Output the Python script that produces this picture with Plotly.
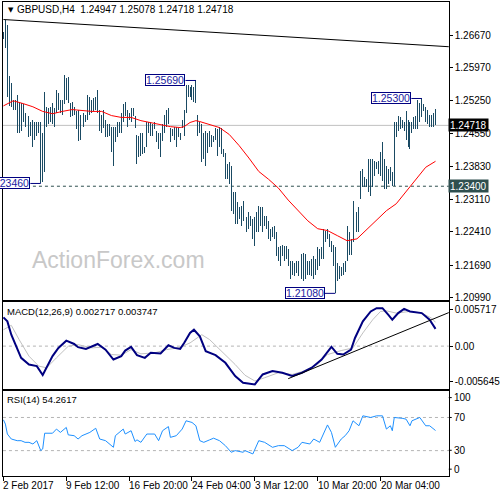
import plotly.graph_objects as go

# ---------------- data ----------------
highs = [
    1.2674, 1.2699, 1.2690, 1.2579, 1.2564, 1.2527, 1.2527, 1.2538, 1.2523, 1.2521,
    1.2517, 1.2499, 1.2495, 1.2491, 1.2480, 1.2484, 1.2478, 1.2480, 1.2478, 1.2478,
    1.2456, 1.2545, 1.2512, 1.2510, 1.2512, 1.2521, 1.2510, 1.2549, 1.2542, 1.2527,
    1.2527, 1.2581, 1.2575, 1.2577, 1.2521, 1.2523, 1.2512, 1.2502, 1.2506, 1.2495,
    1.2499, 1.2499, 1.2495, 1.2538, 1.2534, 1.2527, 1.2532, 1.2534, 1.2549, 1.2506,
    1.2495, 1.2506, 1.2484, 1.2474, 1.2474, 1.2469,
    1.2469, 1.2469, 1.2478, 1.2480, 1.2499, 1.2517, 1.2523, 1.2506, 1.2499, 1.2510,
    1.2510, 1.2491, 1.2452, 1.2448, 1.2456, 1.2456, 1.2426, 1.2478, 1.2480, 1.2478,
    1.2474, 1.2480, 1.2459, 1.2456, 1.2456, 1.2474, 1.2495, 1.2506, 1.2510, 1.2467,
    1.2463, 1.2469, 1.2469, 1.2467, 1.2456, 1.2484, 1.2506, 1.2560, 1.2560, 1.2555,
    1.2560, 1.2555, 1.2569, 1.2495, 1.2478, 1.2474, 1.2456, 1.2459, 1.2456, 1.2459,
    1.2452, 1.2448, 1.2467, 1.2463, 1.2469, 1.2467,
    1.2420, 1.2413, 1.2388, 1.2392, 1.2383, 1.2327, 1.2327, 1.2306, 1.2295, 1.2297,
    1.2308, 1.2291, 1.2273, 1.2284, 1.2276, 1.2269, 1.2273, 1.2284, 1.2297, 1.2295,
    1.2295, 1.2276, 1.2276, 1.2265, 1.2248, 1.2252, 1.2254, 1.2241, 1.2209, 1.2211,
    1.2213, 1.2211, 1.2211, 1.2205, 1.2179, 1.2179, 1.2173, 1.2179, 1.2177, 1.2179,
    1.2194, 1.2196, 1.2194, 1.2177, 1.2177, 1.2183, 1.2188, 1.2183, 1.2209, 1.2205,
    1.2209, 1.2248, 1.2244, 1.2248, 1.2237, 1.2222,
    1.2213, 1.2209, 1.2173, 1.2168, 1.2166, 1.2173, 1.2179, 1.2254, 1.2241, 1.2226,
    1.2308, 1.2297, 1.2284, 1.2295, 1.2372, 1.2377, 1.2360, 1.2355, 1.2398, 1.2398,
    1.2398, 1.2394, 1.2392, 1.2394, 1.2415, 1.2435, 1.2398, 1.2383, 1.2377, 1.2381,
    1.2370, 1.2478, 1.2480, 1.2491, 1.2489, 1.2484, 1.2480, 1.2502, 1.2484, 1.2478,
    1.2478, 1.2489, 1.2491, 1.2527, 1.2521, 1.2530, 1.2517, 1.2512, 1.2506, 1.2495,
    1.2495, 1.2499, 1.25078,
]
lows = [
    1.2658, 1.2640, 1.2534, 1.2514, 1.2512, 1.2506, 1.2506, 1.2456, 1.2456, 1.2459,
    1.2478, 1.2469, 1.2467, 1.2446, 1.2448, 1.2426, 1.2441, 1.2448, 1.2456, 1.2346,
    1.2349, 1.2370, 1.2469, 1.2474, 1.2478, 1.2474, 1.2469, 1.2499, 1.2506, 1.2499,
    1.2495, 1.2517, 1.2527, 1.2521, 1.2489, 1.2491, 1.2495, 1.2463, 1.2437, 1.2441,
    1.2463, 1.2469, 1.2478, 1.2484, 1.2495, 1.2499, 1.2502, 1.2506, 1.2499, 1.2459,
    1.2456, 1.2467, 1.2446, 1.2446, 1.2448, 1.2415,
    1.2383, 1.2435, 1.2446, 1.2456, 1.2456, 1.2478, 1.2491, 1.2469, 1.2484, 1.2480,
    1.2491, 1.2467, 1.2388, 1.2403, 1.2405, 1.2409, 1.2413, 1.2424, 1.2456, 1.2448,
    1.2448, 1.2463, 1.2435, 1.2420, 1.2403, 1.2437, 1.2456, 1.2469, 1.2474, 1.2435,
    1.2448, 1.2441, 1.2426, 1.2446, 1.2441, 1.2467, 1.2448, 1.2499, 1.2534, 1.2534,
    1.2527, 1.2523, 1.2521, 1.2448, 1.2456, 1.2392, 1.2398, 1.2383, 1.2413, 1.2424,
    1.2424, 1.2435, 1.2441, 1.2405, 1.2424, 1.2409,
    1.2403, 1.2355, 1.2355, 1.2345, 1.2286, 1.2280, 1.2259, 1.2259, 1.2269, 1.2254,
    1.2265, 1.2248, 1.2241, 1.2248, 1.2254, 1.2226, 1.2211, 1.2241, 1.2241, 1.2254,
    1.2241, 1.2254, 1.2248, 1.2226, 1.2222, 1.2231, 1.2226, 1.2188, 1.2177, 1.2168,
    1.2188, 1.2177, 1.2183, 1.2168, 1.2140, 1.2147, 1.2145, 1.2151, 1.2145, 1.2134,
    1.2140, 1.2134, 1.2140, 1.2147, 1.2147, 1.2145, 1.2140, 1.2147, 1.2158, 1.2168,
    1.2183, 1.2183, 1.2220, 1.2226, 1.2209, 1.2198,
    1.2168, 1.2108, 1.2134, 1.2140, 1.2145, 1.2147, 1.2155, 1.2177, 1.2190, 1.2190,
    1.2220, 1.2248, 1.2241, 1.2241, 1.2312, 1.2338, 1.2338, 1.2338, 1.2327, 1.2319,
    1.2338, 1.2362, 1.2377, 1.2366, 1.2362, 1.2351, 1.2334, 1.2334, 1.2345, 1.2351,
    1.2340, 1.2340, 1.2446, 1.2459, 1.2463, 1.2467, 1.2459, 1.2441, 1.2426, 1.2420,
    1.2456, 1.2463, 1.2463, 1.2463, 1.2480, 1.2489, 1.2502, 1.2478, 1.2474, 1.2469,
    1.2469, 1.2469, 1.24718,
]

ma_idx = [0, 5, 10, 15, 20, 25, 30, 35, 40, 45, 50, 55, 60, 65, 70, 75, 80, 85, 90, 92,
          95, 98, 100, 105, 110, 115, 120, 125, 130, 135, 140, 145, 150, 155, 160, 165,
          170, 175, 180, 185, 190, 195, 200, 205, 210, 215, 220]
ma_val = [1.2514, 1.2525, 1.2519, 1.2512, 1.2502, 1.2497, 1.2502, 1.2506, 1.2504, 1.2502,
          1.2502, 1.2493, 1.2489, 1.2489, 1.2482, 1.2478, 1.2474, 1.2469, 1.2467, 1.2469,
          1.2478, 1.2482, 1.2480, 1.2474, 1.2467, 1.2452, 1.2428, 1.2401, 1.2372, 1.2355,
          1.2336, 1.2310, 1.2287, 1.2265, 1.2248, 1.2244, 1.2233, 1.2222, 1.2226, 1.2246,
          1.2265, 1.2287, 1.2302, 1.2329, 1.2355, 1.2381, 1.2394]

macd_idx = [0, 2, 4, 7, 9, 13, 17, 20, 22, 25, 28, 32, 36, 38, 42, 44, 48, 52, 56, 60,
            62, 65, 68, 72, 75, 80, 84, 87, 90, 92, 95, 97, 100, 103, 108, 113, 118, 122,
            128, 132, 137, 142, 147, 152, 157, 162, 167, 170, 173, 177, 179, 183, 187,
            190, 193, 196, 198, 201, 204, 207, 213, 217, 220]
macd_val = [0.00452, 0.00390, 0.00180, -0.00055, -0.00185, -0.00290, -0.00315, -0.00455,
            -0.00341, -0.00158, -0.00028, 0.00086, 0.00034, -0.00017, -0.00044, -0.00017,
            0.00034, -0.00055, -0.00211, -0.00158, -0.00070, -0.00013, -0.00142, -0.00185,
            -0.00106, -0.00117, 0.00014, -0.00028, -0.00044, 0.00050, 0.00207, 0.00258,
            0.00155, -0.00080, -0.00142, -0.00263, -0.00471, -0.00576, -0.00603, -0.00446,
            -0.00393, -0.00419, -0.00471, -0.00419, -0.00341, -0.00211, -0.00013, -0.00122,
            -0.00133, -0.00055, 0.00128, 0.00390, 0.00546, 0.00598, 0.00598, 0.00493,
            0.00415, 0.00520, 0.00587, 0.00546, 0.00520, 0.00415, 0.002717]

sig_idx = [0, 4, 8, 13, 18, 22, 27, 33, 38, 45, 50, 55, 60, 65, 70, 77, 83, 89, 95, 101,
           105, 112, 118, 123, 128, 133, 140, 147, 153, 160, 165, 172, 178, 183, 188, 192,
           195, 200, 207, 213, 218, 220]
sig_val = [0.00258, 0.00327, 0.00102, -0.00158, -0.00315, -0.00341, -0.00185, -0.00002,
           0.00023, -0.00028, -0.00017, -0.00133, -0.00142, -0.00055, -0.00122, -0.00106,
           -0.00055, -0.00028, 0.00050, 0.00180, 0.00102, -0.00106, -0.00290, -0.00459,
           -0.00549, -0.00498, -0.00419, -0.00446, -0.00393, -0.00290, -0.00133, -0.00070,
           -0.00028, 0.00207, 0.00415, 0.00546, 0.00556, 0.00520, 0.00546, 0.00520,
           0.00441, 0.003747]

rsi_idx = [0, 1, 2, 4, 7, 9, 11, 13, 15, 17, 19, 20, 21, 25, 27, 29, 32, 33, 36, 38, 40,
           44, 47, 49, 52, 56, 57, 61, 62, 65, 67, 68, 70, 73, 77, 79, 81, 84, 85, 88, 91,
           93, 96, 98, 100, 102, 105, 107, 110, 113, 116, 118, 122, 123, 127, 130, 133,
           137, 140, 143, 147, 150, 152, 156, 158, 161, 165, 167, 169, 172, 174, 176, 178,
           181, 183, 187, 190, 193, 195, 197, 198, 199, 203, 205, 207, 208, 212, 215, 217,
           219, 220]
rsi_val = [67.2, 62, 50, 44, 42, 42, 40, 40, 38, 42, 30, 32, 51, 51, 56, 52, 58, 49, 48, 44,
           48, 52, 57, 44, 42, 34, 48, 56, 50, 54, 41, 43, 40, 50, 50, 42, 54, 59, 46, 48,
           56, 66, 64, 60, 42, 40, 43, 45, 42, 36, 28, 30, 28, 30, 26, 42, 40, 34, 36, 36,
           30, 34, 40, 38, 44, 40, 61, 52, 34, 44, 48, 54, 66, 60, 72, 70, 72, 72, 56, 60,
           54, 70, 69, 68, 60, 66, 70, 60, 60, 56, 54.2617]

price_tick_vals = [1.2667, 1.2597, 1.2525, 1.2455, 1.2383, 1.2311, 1.2241, 1.2169, 1.2099]
price_tick_text = ["1.26670", "1.25970", "1.25250", "1.24550", "1.23830", "1.23110",
                   "1.22410", "1.21690", "1.20990"]
macd_tick_vals = [0.005717, 0.0, -0.005645]
macd_tick_text = ["0.005717", "0.00", "-0.005645"]
rsi_levels = [70, 30]
rsi_label_vals = [100, 70, 30, 0]
xtick_bars = [0, 32, 64, 96, 128, 160, 192]
xtick_labels = ["2 Feb 2017", "9 Feb 12:00", "16 Feb 20:00", "24 Feb 04:00",
                "3 Mar 12:00", "10 Mar 20:00", "20 Mar 04:00"]

support_level = 1.2340
last_ohlc = [1.24947, 1.25078, 1.24718, 1.24718]
trend_main_x = [0, 227]
trend_main_y = [1.2701, 1.2642]
trend_macd_x = [145, 227]
trend_macd_y = [-0.00513, 0.00531]
marked_high_bars = [98, 213]
marked_low_bars = [19, 169]

assert len(highs) == len(lows) == 221

# ---------------- figure ----------------
FONT = "Liberation Sans, Arial, sans-serif"
BAR_COLOR = "#1a4a63"
NAVY = "#000080"

bar_x = list(range(len(highs)))
bar_len = [h - l for h, l in zip(highs, lows)]

fig = go.Figure()
# H4 bars drawn as thin high-low columns (1 px wide)
fig.add_trace(go.Bar(x=bar_x, y=bar_len, base=lows, width=0.5,
                     marker=dict(color=BAR_COLOR, line=dict(width=0)),
                     xaxis="x", yaxis="y", hoverinfo="skip"))
fig.add_trace(go.Scatter(x=ma_idx, y=ma_val, mode="lines", line=dict(color="#ff0000", width=1),
                         xaxis="x", yaxis="y", hoverinfo="skip"))
fig.add_trace(go.Scatter(x=trend_main_x, y=trend_main_y, mode="lines",
                         line=dict(color="black", width=1), xaxis="x", yaxis="y"))
fig.add_trace(go.Scatter(x=sig_idx, y=sig_val, mode="lines", line=dict(color="#c0c0c0", width=1),
                         xaxis="x2", yaxis="y2"))
fig.add_trace(go.Scatter(x=macd_idx, y=macd_val, mode="lines", line=dict(color=NAVY, width=2),
                         xaxis="x2", yaxis="y2"))
fig.add_trace(go.Scatter(x=trend_macd_x, y=trend_macd_y, mode="lines",
                         line=dict(color="black", width=1), xaxis="x2", yaxis="y2"))
fig.add_trace(go.Scatter(x=rsi_idx, y=rsi_val, mode="lines", line=dict(color="#1e90ff", width=1),
                         xaxis="x3", yaxis="y3"))

W = 500.0
xdom = [3 / W, 457 / W]
xr = [-0.25, 226.75]
ax_common = dict(showgrid=False, zeroline=False, showline=True, mirror=True,
                 linecolor="black", linewidth=1, fixedrange=True)
tickfont = dict(family=FONT, size=10, color="black")

shapes = []
annotations = []

# horizontal reference lines
shapes.append(dict(type="line", xref="x domain", yref="y", x0=0, x1=1,
                   y0=last_ohlc[3], y1=last_ohlc[3], layer="below",
                   line=dict(color="#c0c0c0", width=1)))
shapes.append(dict(type="line", xref="x domain", yref="y", x0=0, x1=1,
                   y0=support_level, y1=support_level, layer="below",
                   line=dict(color="#2f4f4f", width=1, dash="3px,3px")))
shapes.append(dict(type="line", xref="x2 domain", yref="y2", x0=0, x1=1, y0=0, y1=0,
                   layer="below", line=dict(color="#b4b4b4", width=1, dash="3px,3px")))
for lv in rsi_levels:
    shapes.append(dict(type="line", xref="x3 domain", yref="y3", x0=0, x1=1, y0=lv, y1=lv,
                       layer="below", line=dict(color="#b4b4b4", width=1, dash="3px,3px")))

# high / low marker labels
OFF = 5.3
marks = [(b, highs[b]) for b in marked_high_bars] + [(b, lows[b]) for b in marked_low_bars]
for b, v in marks:
    shapes.append(dict(type="line", xref="x", yref="y", x0=b - OFF, x1=b, y0=v, y1=v,
                       line=dict(color=NAVY, width=1)))
    annotations.append(dict(x=b - OFF, y=v, xref="x", yref="y", xanchor="right",
                            yanchor="middle", text=f"{v:.5f}", showarrow=False,
                            font=dict(family=FONT, size=10.5, color="#1a1aa0"),
                            bgcolor="white", bordercolor=NAVY, borderwidth=1, borderpad=0,
                            height=10))

# right-side price boxes
annotations.append(dict(x=498 / W, y=last_ohlc[3], xref="paper", yref="y", xanchor="right",
                        yanchor="middle", text=f"{last_ohlc[3]:.5f}", showarrow=False,
                        font=dict(family=FONT, size=10, color="white"), bgcolor="black",
                        borderpad=1, height=10))
annotations.append(dict(x=498 / W, y=support_level, xref="paper", yref="y", xanchor="right",
                        yanchor="middle", text=f"{support_level:.5f}", showarrow=False,
                        font=dict(family=FONT, size=10, color="white"), bgcolor="#2f4f4f",
                        borderpad=1, height=10))

# RSI scale labels (100 and 0 placed inside the panel edges as in MT4)
rsi_label_px = {100: 400, 70: 420, 30: 453, 0: 472}
for v in rsi_label_vals:
    ypx = rsi_label_px[v]
    annotations.append(dict(x=460 / W, y=1 - ypx / W, xref="paper", yref="paper",
                            xanchor="left", yanchor="middle", text=str(v), showarrow=False,
                            font=tickfont))
    shapes.append(dict(type="line", xref="paper", yref="paper", x0=457 / W, x1=460 / W,
                       y0=1 - ypx / W, y1=1 - ypx / W, line=dict(color="black", width=1)))

# x labels
for b, t in zip(xtick_bars, xtick_labels):
    annotations.append(dict(x=b, y=1 - 488 / W, xref="x3", yref="paper", xanchor="left",
                            yanchor="middle", xshift=-2, text=t, showarrow=False,
                            font=tickfont))

# header / indicator labels
annotations.append(dict(x=6 / W, y=1 - 10 / W, xref="paper", yref="paper", xanchor="left",
                        yanchor="middle", text="▼", showarrow=False,
                        font=dict(family="DejaVu Sans", size=7, color="black")))
annotations.append(dict(x=15 / W, y=1 - 10 / W, xref="paper", yref="paper", xanchor="left",
                        yanchor="middle",
                        text="GBPUSD,H4  " + " ".join(f"{v:.5f}" for v in last_ohlc),
                        showarrow=False, font=dict(family=FONT, size=10, color="black")))
annotations.append(dict(x=5 / W, y=1 - 313 / W, xref="paper", yref="paper", xanchor="left",
                        yanchor="middle",
                        text=f"MACD(12,26,9) {macd_val[-1]:.6f} {sig_val[-1]:.6f}",
                        showarrow=False, font=dict(family=FONT, size=9.5, color="black")))
annotations.append(dict(x=5 / W, y=1 - 401.5 / W, xref="paper", yref="paper", xanchor="left",
                        yanchor="middle", text=f"RSI(14) {rsi_val[-1]:.4f}",
                        showarrow=False, font=dict(family=FONT, size=9.5, color="black")))
annotations.append(dict(x=121 / W, y=1 - 262 / W, xref="paper", yref="paper",
                        xanchor="center", yanchor="middle", text="ActionForex.com",
                        showarrow=False, font=dict(family=FONT, size=23, color="#c8c8c8")))

fig.update_layout(
    width=500, height=500, margin=dict(l=0, r=0, t=0, b=0),
    paper_bgcolor="white", plot_bgcolor="white", showlegend=False,
    bargap=0, barmode="overlay",
    xaxis=dict(domain=xdom, range=xr, anchor="y", showticklabels=False, ticks="", **ax_common),
    xaxis2=dict(domain=xdom, range=xr, anchor="y2", showticklabels=False, ticks="", **ax_common),
    xaxis3=dict(domain=xdom, range=xr, anchor="y3", showticklabels=False, ticks="outside",
                tickvals=xtick_bars, ticklen=4, tickcolor="black", **ax_common),
    yaxis=dict(domain=[1 - 302 / W, 1 - 2.5 / W], range=[1.20932, 1.27379], anchor="x",
               side="right", tickvals=price_tick_vals, ticktext=price_tick_text,
               ticks="outside", ticklen=3, tickcolor="black", tickfont=tickfont, **ax_common),
    yaxis2=dict(domain=[1 - 391 / W, 1 - 304 / W], range=[-0.00670, 0.00692], anchor="x2",
                side="right", tickvals=macd_tick_vals, ticktext=macd_tick_text,
                ticks="outside", ticklen=3, tickcolor="black", tickfont=tickfont, **ax_common),
    yaxis3=dict(domain=[1 - 479 / W, 1 - 393 / W], range=[-0.8, 102.4], anchor="x3",
                side="right", showticklabels=False, ticks="", **ax_common),
    shapes=shapes, annotations=annotations,
)

fig.write_html("out.html", config={"displayModeBar": False, "staticPlot": True})

# remove the browser's default page margin so the 500x500 figure sits at the window origin
with open("out.html", "r", encoding="utf-8") as f:
    html = f.read()
html = html.replace("<body>", '<body style="margin:0;padding:0;overflow:hidden;">', 1)
with open("out.html", "w", encoding="utf-8") as f:
    f.write(html)
